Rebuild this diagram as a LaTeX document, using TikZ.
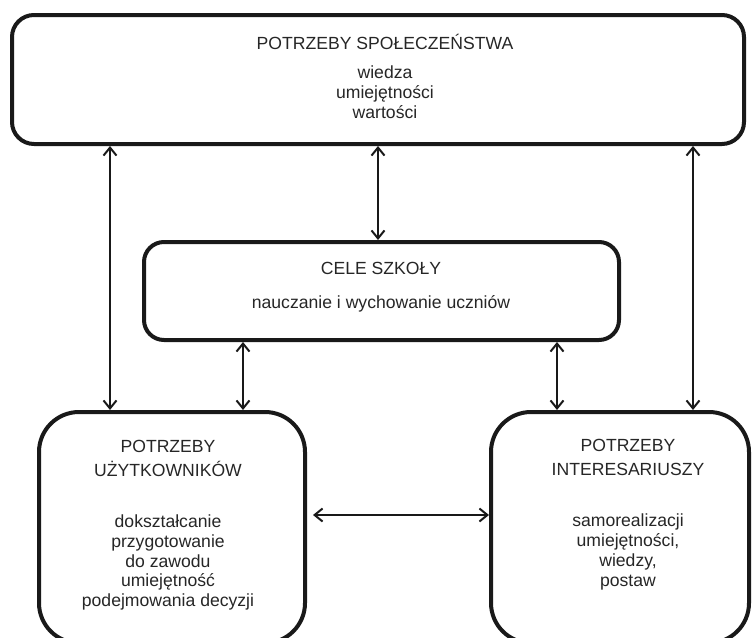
\documentclass[tikz,border=0pt]{standalone}
\usepackage{fontspec}
\setmainfont{Liberation Sans}
\usetikzlibrary{arrows.meta}
\begin{document}
\begin{tikzpicture}[x=1pt,y=-1pt,
  box/.style={draw=black!90,line width=4pt,rounded corners=#1,inner sep=0pt,minimum width=0pt,minimum height=0pt},
  txt/.style={font=\fontsize{17.6}{19.7}\selectfont,align=center,anchor=base,inner sep=0pt,text=black!85},
  conn/.style={line width=2.2pt,draw=black!90,{Straight Barb[length=8pt,width=13pt,line width=2pt]}-{Straight Barb[length=8pt,width=13pt,line width=2pt]}}]
\useasboundingbox (0,0) rectangle (752,637);
\clip (0,0) rectangle (752,637);
% boxes
\node[box=22pt,minimum width=732pt,minimum height=129pt] (top) at (378,79.5) {};
\node[box=20pt,minimum width=475pt,minimum height=98pt] (mid) at (381.5,291) {};
\node[box=40pt,minimum width=266pt,minimum height=231pt] (bl) at (172,527.5) {};
\node[box=40pt,minimum width=258pt,minimum height=231pt] (br) at (620,527.5) {};
% texts (anchor base = baseline of the last line)
\node[txt] (t1) at (385,49) {POTRZEBY SPOŁECZEŃSTWA};
\node[txt] (t2) at (385,118) {wiedza\\umiejętności\\wartości};
\node[txt] (m1) at (381,274) {CELE SZKOŁY};
\node[txt] (m2) at (381,308) {nauczanie i wychowanie uczniów};
\node[txt] (l1) at (168,476) {POTRZEBY\\[4pt]UŻYTKOWNIKÓW};
\node[txt] (l2) at (168,606.5) {dokształcanie\\przygotowanie\\do zawodu\\umiejętność\\podejmowania decyzji};
\node[txt] (r1) at (628,475) {POTRZEBY\\[4pt]INTERESARIUSZY};
\node[txt] (r2) at (628,586) {samorealizacji\\umiejętności,\\wiedzy,\\postaw};
% connector x positions
\coordinate (xa) at (110,0);
\coordinate (xb) at (378,0);
\coordinate (xc) at (243,0);
\coordinate (xd) at (557,0);
\coordinate (xe) at (693,0);
\coordinate (yh) at (0,515);
\draw[conn] (xa |- top.south) -- (xa |- bl.north);
\draw[conn] (xb |- top.south) -- (xb |- mid.north);
\draw[conn] (xc |- mid.south) -- (xc |- bl.north);
\draw[conn] (xd |- mid.south) -- (xd |- br.north);
\draw[conn] (xe |- top.south) -- (xe |- br.north);
\draw[conn,shorten <=6pt] (bl.east |- yh) -- (br.west |- yh);
\end{tikzpicture}
\end{document}
